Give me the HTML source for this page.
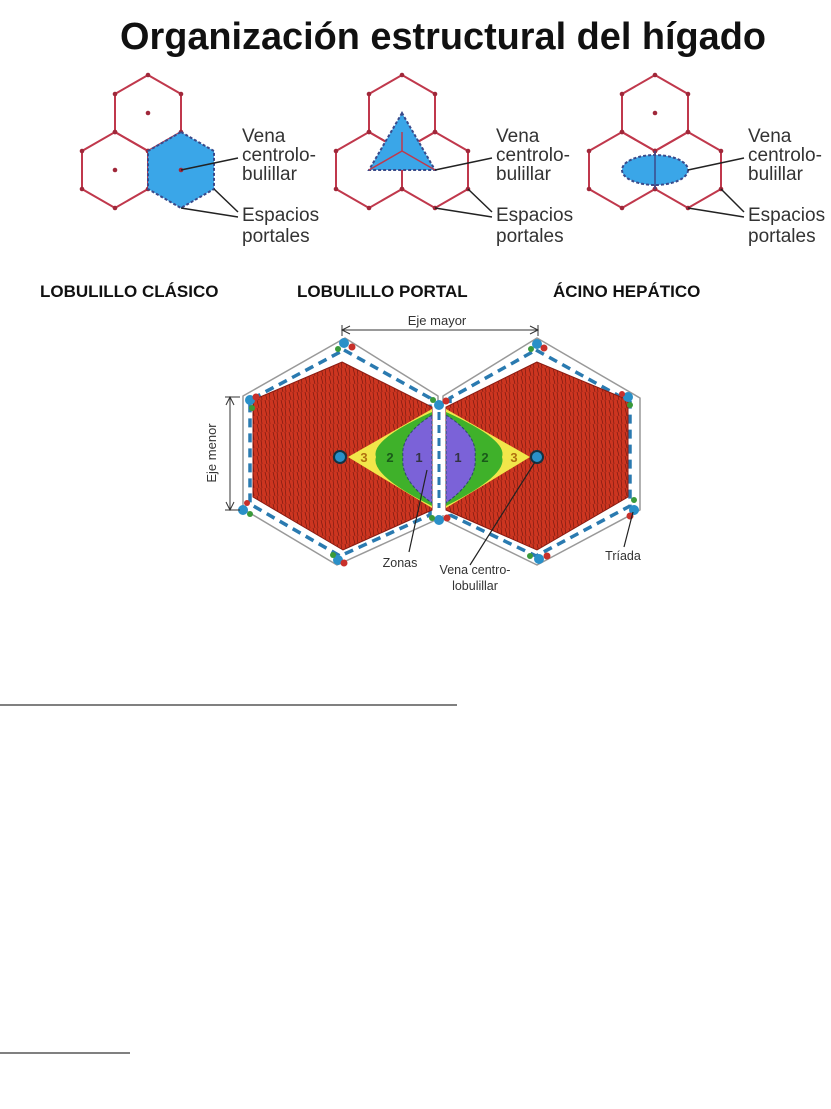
<!DOCTYPE html>
<html><head><meta charset="utf-8"><style>
html,body{margin:0;padding:0;background:#fff;}
svg{display:block;}
text{font-family:"Liberation Sans",sans-serif;}
</style></head><body>
<svg width="831" height="1109" viewBox="0 0 831 1109" xmlns="http://www.w3.org/2000/svg">
<defs>
<g id="hex"><polygon points="0,-38 33,-19 33,19 0,38 -33,19 -33,-19" fill="none" stroke="#c0384c" stroke-width="2"/>
<g fill="#a0283a"><circle cx="0" cy="-38" r="2.3"/><circle cx="33" cy="-19" r="2.3"/><circle cx="33" cy="19" r="2.3"/><circle cx="0" cy="38" r="2.3"/><circle cx="-33" cy="19" r="2.3"/><circle cx="-33" cy="-19" r="2.3"/></g></g>
<pattern id="fib" width="8" height="8" patternUnits="userSpaceOnUse"><rect width="8" height="8" fill="#cc3520"/><path d="M1 0 L3 8 M5 0 L6 8" stroke="#7a1a10" stroke-width="0.7"/></pattern>
</defs>
<text x="443" y="49" font-size="38" font-weight="bold" text-anchor="middle" textLength="646" lengthAdjust="spacingAndGlyphs" fill="#111">Organización estructural del hígado</text>

<!-- Panel 1 -->
<g>
<use href="#hex" x="148" y="113"/><circle cx="148" cy="113" r="2.3" fill="#a0283a"/>
<use href="#hex" x="115" y="170"/><circle cx="115" cy="170" r="2.3" fill="#a0283a"/>
<polygon points="181,132 214,151 214,189 181,208 148,189 148,151" fill="#3aa6e8" stroke="#3a4a8a" stroke-width="2" stroke-dasharray="3,2"/>
<circle cx="181" cy="170" r="2.3" fill="#a0283a"/>
<line x1="181" y1="170" x2="238" y2="158" stroke="#222" stroke-width="1.5"/>
<path d="M214 189 L238 212 M181 208 L238 217" stroke="#222" stroke-width="1.5" fill="none"/>
</g>
<!-- Panel 2 -->
<g>
<use href="#hex" x="402" y="113"/><use href="#hex" x="369" y="170"/><use href="#hex" x="435" y="170"/>
<polygon points="402,113 369,170 435,170" fill="#3aa6e8" stroke="#3a4a8a" stroke-width="2" stroke-dasharray="3,2"/>
<path d="M402 132 L402 151 L435 170 M402 151 L369 170" stroke="#c0384c" stroke-width="1.5" fill="none"/>
<line x1="435" y1="170" x2="492" y2="158" stroke="#222" stroke-width="1.5"/>
<path d="M468 189 L492 212 M435 208 L492 217" stroke="#222" stroke-width="1.5" fill="none"/>
</g>
<!-- Panel 3 -->
<g>
<use href="#hex" x="655" y="113"/><circle cx="655" cy="113" r="2.3" fill="#a0283a"/>
<use href="#hex" x="622" y="170"/><use href="#hex" x="688" y="170"/>
<ellipse cx="655" cy="170" rx="33" ry="15" fill="#3aa6e8" stroke="#3a4a8a" stroke-width="2" stroke-dasharray="3,2"/>
<line x1="655" y1="151" x2="655" y2="189" stroke="#3a4a8a" stroke-width="1.5"/>
<line x1="688" y1="170" x2="744" y2="158" stroke="#222" stroke-width="1.5"/>
<path d="M721 189 L744 212 M688 208 L744 217" stroke="#222" stroke-width="1.5" fill="none"/>
</g>
<g font-size="19" fill="#333">
<text x="242" y="142">Vena</text><text x="242" y="161">centrolo-</text><text x="242" y="180">bulillar</text>
<text x="242" y="221">Espacios</text><text x="242" y="242">portales</text>
<text x="496" y="142">Vena</text><text x="496" y="161">centrolo-</text><text x="496" y="180">bulillar</text>
<text x="496" y="221">Espacios</text><text x="496" y="242">portales</text>
<text x="748" y="142">Vena</text><text x="748" y="161">centrolo-</text><text x="748" y="180">bulillar</text>
<text x="748" y="221">Espacios</text><text x="748" y="242">portales</text>
</g>
<g font-size="17" font-weight="bold" fill="#111">
<text x="40" y="297">LOBULILLO CLÁSICO</text>
<text x="297" y="297">LOBULILLO PORTAL</text>
<text x="553" y="297">ÁCINO HEPÁTICO</text>
</g>

<!-- Bottom diagram -->
<g>
<text x="437" y="325" font-size="13" text-anchor="middle" fill="#333">Eje mayor</text>
<line x1="342" y1="330" x2="538" y2="330" stroke="#333" stroke-width="1"/>
<path d="M350 326 L342 330 L350 334 M530 326 L538 330 L530 334 M342 325 V336 M538 325 V336" stroke="#333" fill="none"/>
<polygon points="345,338 438,396 438,519 337,565 243,509 243,396" fill="#fff" stroke="#999" stroke-width="1.5" stroke-linejoin="round"/>
<polygon points="537,338 640,398 640,510 537,565 443,519 443,396" fill="#fff" stroke="#999" stroke-width="1.5" stroke-linejoin="round"/>
<polygon points="344,350 430,398 430,515 340,556 250,504 250,400" fill="none" stroke="#2a7ab0" stroke-width="3.5" stroke-dasharray="9,6"/>
<polygon points="536,350 630,402 630,506 536,556 450,515 450,398" fill="none" stroke="#2a7ab0" stroke-width="3.5" stroke-dasharray="9,6"/>
<polygon points="342,362 432,407 432,510 343,550 253,497 253,400" fill="url(#fib)" stroke="#8a1a10"/>
<polygon points="537,362 446,407 446,510 537,550 628,497 628,400" fill="url(#fib)" stroke="#8a1a10"/>
<polygon points="348,457 432,409 432,508" fill="#f2e64a"/>
<path d="M432 412 Q370 440 376 457 Q370 475 432 506 Z" fill="#3fb12a"/>
<path d="M432 415 Q400 435 403 457 Q400 480 432 503 Z" fill="#7b62d8" stroke="#2a4a6a" stroke-dasharray="3,2"/>
<polygon points="530,457 446,409 446,508" fill="#f2e64a"/>
<path d="M446 412 Q508 440 502 457 Q508 475 446 506 Z" fill="#3fb12a"/>
<path d="M446 415 Q478 435 475 457 Q478 480 446 503 Z" fill="#7b62d8" stroke="#2a4a6a" stroke-dasharray="3,2"/>
<rect x="434" y="405" width="10" height="110" fill="#fff"/>
<line x1="439" y1="412" x2="439" y2="508" stroke="#2a7ab0" stroke-width="3" stroke-dasharray="8,5"/>
<g font-size="13" font-weight="bold" text-anchor="middle">
<text x="364" y="462" fill="#b07010">3</text><text x="390" y="462" fill="#1a5a1a">2</text><text x="419" y="462" fill="#334">1</text>
<text x="458" y="462" fill="#334">1</text><text x="485" y="462" fill="#1a5a1a">2</text><text x="514" y="462" fill="#b07010">3</text>
</g>
<circle cx="340" cy="457" r="6" fill="#2a90c8" stroke="#134" stroke-width="2"/>
<circle cx="537" cy="457" r="6" fill="#2a90c8" stroke="#134" stroke-width="2"/>
<g>
<circle cx="344" cy="343" r="5" fill="#2a90c8"/><circle cx="352" cy="347" r="3.5" fill="#c8302a"/><circle cx="338" cy="349" r="3" fill="#3a9a3a"/>
<circle cx="250" cy="400" r="5" fill="#2a90c8"/><circle cx="256" cy="397" r="3.5" fill="#c8302a"/><circle cx="252" cy="408" r="3" fill="#3a9a3a"/>
<circle cx="243" cy="510" r="5" fill="#2a90c8"/><circle cx="247" cy="503" r="3" fill="#c8302a"/><circle cx="250" cy="514" r="3" fill="#3a9a3a"/>
<circle cx="338" cy="560" r="5" fill="#2a90c8"/><circle cx="344" cy="563" r="3.5" fill="#c8302a"/><circle cx="333" cy="555" r="3" fill="#3a9a3a"/>
<circle cx="439" cy="405" r="5" fill="#2a90c8"/><circle cx="446" cy="401" r="3.5" fill="#c8302a"/><circle cx="433" cy="400" r="3" fill="#3a9a3a"/>
<circle cx="439" cy="520" r="5" fill="#2a90c8"/><circle cx="447" cy="518" r="3.5" fill="#c8302a"/><circle cx="432" cy="518" r="3" fill="#3a9a3a"/>
<circle cx="537" cy="344" r="5" fill="#2a90c8"/><circle cx="544" cy="348" r="3.5" fill="#c8302a"/><circle cx="531" cy="349" r="3" fill="#3a9a3a"/>
<circle cx="628" cy="397" r="5" fill="#2a90c8"/><circle cx="622" cy="394" r="3" fill="#c8302a"/><circle cx="630" cy="405" r="3" fill="#3a9a3a"/>
<circle cx="634" cy="510" r="5" fill="#2a90c8"/><circle cx="630" cy="516" r="3.5" fill="#c8302a"/><circle cx="634" cy="500" r="3" fill="#3a9a3a"/>
<circle cx="539" cy="559" r="5" fill="#2a90c8"/><circle cx="547" cy="556" r="3.5" fill="#c8302a"/><circle cx="530" cy="556" r="3" fill="#3a9a3a"/>
</g>
<line x1="230" y1="397" x2="230" y2="510" stroke="#333"/>
<path d="M226 405 L230 397 L234 405 M226 502 L230 510 L234 502 M225 397 H240 M225 510 H240" stroke="#333" fill="none"/>
<text transform="translate(216,453) rotate(-90)" font-size="13" text-anchor="middle" fill="#333">Eje menor</text>
<path d="M409 552 L427 470 M470 565 L535 462 M624 547 L633 512" stroke="#222" stroke-width="1.2" fill="none"/>
<g font-size="12.5" fill="#333" text-anchor="middle">
<text x="400" y="567">Zonas</text>
<text x="475" y="574">Vena centro-</text><text x="475" y="590">lobulillar</text>
<text x="623" y="560">Tríada</text>
</g>
</g>

<line x1="0" y1="705" x2="457" y2="705" stroke="#000" stroke-width="1"/>
<line x1="0" y1="1053" x2="130" y2="1053" stroke="#000" stroke-width="1"/>
</svg>
</body></html>
